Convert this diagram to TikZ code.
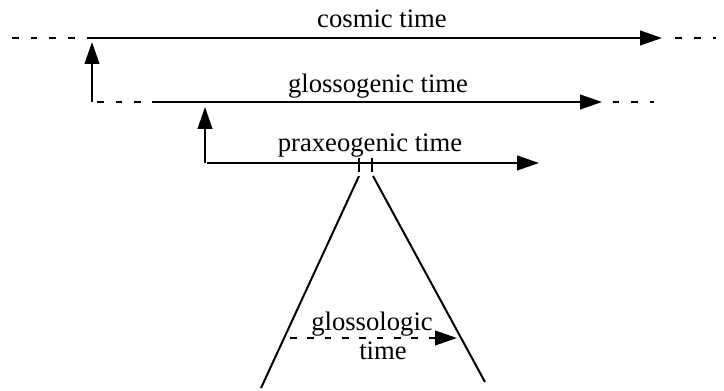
\documentclass[tikz,border=0pt]{standalone}
\usepackage{fontspec}
\setmainfont{Liberation Serif}
\usetikzlibrary{arrows.meta, positioning}

\begin{document}
\begin{tikzpicture}[
x=0.75pt, y=-0.75pt,
font=\fontsize{20}{22}\selectfont,
>={Triangle[length=16.5pt, width=11pt]},
timeline/.style={->, line width=1.5pt},
farpart/.style={line width=1.5pt, dash pattern=on 5pt off 9pt},
link/.style={->, line width=1.5pt},
tick/.style={line width=1.5pt},
cone/.style={line width=1.5pt},
label/.style={anchor=base, inner sep=0pt}
]

\useasboundingbox (0,0) rectangle (724,391);

% cosmic time
\coordinate (cosmicFar) at (12,38);
\coordinate (cosmicStart) at (88,38);
\coordinate (cosmicEnd) at (662,38);
\coordinate (cosmicBeyond) at (716,38);
\node[label] (cosmicLabel) at (382,28) {cosmic time};

% glossogenic time
\coordinate (glossoFar) at (97,102);
\coordinate (glossoStart) at (152,102);
\coordinate (glossoEnd) at (602,102);
\coordinate (glossoBeyond) at (654,102);
\node[label] (glossoLabel) at (378,93) {glossogenic time};

% praxeogenic time
\coordinate (praxStart) at (207,163);
\coordinate (praxEnd) at (539,163);
\node[label] (praxLabel) at (370,152) {praxeogenic time};

% links between the time levels
\coordinate (glossoRoot) at (92,102);
\coordinate (cosmicHit) at (92,42);
\coordinate (praxRoot) at (205,163);
\coordinate (glossoHit) at (205,107);

% the cut out of praxeogenic time
\coordinate (cutLeftTop) at (359,158);
\coordinate (cutLeftBot) at (359,172);
\coordinate (cutRightTop) at (372,158);
\coordinate (cutRightBot) at (372,172);
\coordinate (coneLeftTop) at (359,176);
\coordinate (coneLeftBot) at (261,388);
\coordinate (coneRightTop) at (373,176);
\coordinate (coneRightBot) at (485,382);

% glossologic time
\coordinate (logicStart) at (290,338);
\coordinate (logicEnd) at (457,338);
\node[label] (logicLabel) at (372,330) {glossologic};
\node[label] (logicLabelTwo) at (383,359) {time};

\draw[farpart] (cosmicFar) -- (cosmicStart);
\draw[timeline] (cosmicStart) -- (cosmicEnd);
\draw[farpart] ([xshift=10]cosmicEnd) -- (cosmicBeyond);

\draw[farpart] (glossoFar) -- (glossoStart);
\draw[timeline] (glossoStart) -- (glossoEnd);
\draw[farpart] ([xshift=8]glossoEnd) -- (glossoBeyond);

\draw[timeline] (praxStart) -- (praxEnd);

\draw[link] (glossoRoot) -- (cosmicHit);
\draw[link] (praxRoot) -- (glossoHit);

\draw[tick] (cutLeftTop) -- (cutLeftBot);
\draw[tick] (cutRightTop) -- (cutRightBot);
\draw[cone] (coneLeftTop) -- (coneLeftBot);
\draw[cone] (coneRightTop) -- (coneRightBot);

\draw[timeline, dash pattern=on 5pt off 8pt] (logicStart) -- (logicEnd);

\end{tikzpicture}
\end{document}
